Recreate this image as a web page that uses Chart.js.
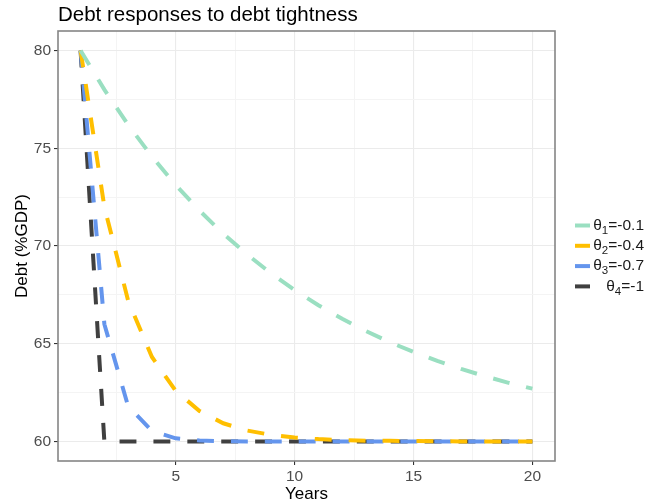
<!DOCTYPE html>
<html>
<head>
<meta charset="utf-8">
<script src="https://cdn.jsdelivr.net/npm/chart.js@4"></script>
<style>
  html, body { margin: 0; padding: 0; background: #ffffff; }
  #wrap { width: 646px; height: 503px; }
</style>
</head>
<body>
<div id="wrap"><canvas id="chart" width="646" height="503"></canvas></div>
<script>
// Debt path (%GDP) by year for each tightness parameter
const years = [1, 2, 3, 4, 5, 6, 7, 8, 9, 10, 11, 12, 13, 14, 15, 16, 17, 18, 19, 20];
const debtTheta1 = [80, 78, 76.2, 74.58, 73.12, 71.81, 70.63, 69.57, 68.61, 67.75, 66.97, 66.28, 65.65, 65.08, 64.58, 64.12, 63.71, 63.34, 63.0, 62.7];
const debtTheta2 = [80, 72, 67.2, 64.32, 62.59, 61.56, 60.93, 60.56, 60.34, 60.2, 60.12, 60.07, 60.04, 60.03, 60.02, 60.01, 60, 60, 60, 60];
const debtTheta3 = [80, 66, 61.8, 60.54, 60.16, 60.05, 60.01, 60, 60, 60, 60, 60, 60, 60, 60, 60, 60, 60, 60, 60];
const debtTheta4 = [80, 60, 60, 60, 60, 60, 60, 60, 60, 60, 60, 60, 60, 60, 60, 60, 60, 60, 60, 60];

const seriesNames = [
  { sub: '1', rest: '=-0.1' },
  { sub: '2', rest: '=-0.4' },
  { sub: '3', rest: '=-0.7' },
  { sub: '4', rest: '=-1' }
];
const seriesColors = ['#9ADFC1', '#FFBF00', '#6495ED', '#404040'];
const seriesData = [debtTheta1, debtTheta2, debtTheta3, debtTheta4];

const xTicks = [2.5, 5, 7.5, 10, 12.5, 15, 17.5, 20];
const yTicks = [60, 62.5, 65, 67.5, 70, 72.5, 75, 77.5, 80];

const FONT = '"Liberation Sans", Arial, sans-serif';
const isMajor = v => Math.abs(v % 5) < 1e-9;

const datasets = seriesData.map((vals, i) => ({
  label: 'θ' + seriesNames[i].sub + seriesNames[i].rest,
  data: years.map((y, k) => ({ x: y, y: vals[k] })),
  borderColor: seriesColors[i],
  backgroundColor: seriesColors[i],
  borderWidth: 4,
  borderDash: [16.9, 17],
  borderCapStyle: 'butt',
  pointRadius: 0,
  tension: 0,
  fill: false
}));

// Title, axis titles, panel frame and legend keys
const decorations = {
  id: 'decorations',
  afterDraw(chart) {
    const ctx = chart.ctx;
    const a = chart.chartArea;
    ctx.save();

    // panel frame
    ctx.strokeStyle = '#858585';
    ctx.lineWidth = 1.6;
    ctx.strokeRect(a.left, a.top, a.right - a.left, a.bottom - a.top);

    // title
    ctx.fillStyle = '#000000';
    ctx.font = '20.5px ' + FONT;
    ctx.textAlign = 'left';
    ctx.textBaseline = 'middle';
    ctx.fillText('Debt responses to debt tightness', a.left, 15);

    // axis titles
    ctx.font = '17px ' + FONT;
    ctx.textAlign = 'center';
    ctx.fillText('Years', (a.left + a.right) / 2, 494);
    ctx.save();
    ctx.translate(22, (a.top + a.bottom) / 2);
    ctx.rotate(-Math.PI / 2);
    ctx.fillText('Debt (%GDP)', 0, 0);
    ctx.restore();

    // legend
    const rightEdge = 644;
    const big = '15.5px ' + FONT;
    const small = '11.5px ' + FONT;
    seriesNames.forEach((s, i) => {
      const y = 225.5 + i * 20.3;
      ctx.strokeStyle = seriesColors[i];
      ctx.lineWidth = 4;
      ctx.lineCap = 'butt';
      ctx.beginPath();
      ctx.moveTo(575, y);
      ctx.lineTo(590, y);
      ctx.stroke();

      ctx.font = big;
      const wTheta = ctx.measureText('θ').width;
      const wRest = ctx.measureText(s.rest).width;
      ctx.font = small;
      const wSub = ctx.measureText(s.sub).width;
      let x = rightEdge - (wTheta + wSub + wRest);
      ctx.textAlign = 'left';
      ctx.textBaseline = 'middle';
      ctx.fillStyle = '#1a1a1a';
      ctx.font = big;
      ctx.fillText('θ', x, y);
      x += wTheta;
      ctx.font = small;
      ctx.fillText(s.sub, x, y + 5);
      x += wSub;
      ctx.font = big;
      ctx.fillText(s.rest, x, y);
    });
    ctx.restore();
  }
};

const gridColor = ctx => isMajor(ctx.tick.value) ? '#ebebeb' : '#f4f4f4';
const gridWidth = ctx => isMajor(ctx.tick.value) ? 1.1 : 1;
const tickColor = ctx => isMajor(ctx.tick.value) ? '#333333' : 'rgba(0,0,0,0)';

new Chart(document.getElementById('chart'), {
  type: 'line',
  data: { datasets },
  plugins: [decorations],
  options: {
    responsive: false,
    animation: false,
    layout: { padding: { top: 31, right: 91, bottom: 0, left: 0 } },
    plugins: {
      legend: { display: false },
      title: { display: false },
      tooltip: { enabled: false }
    },
    scales: {
      x: {
        type: 'linear',
        min: 0.05,
        max: 20.95,
        afterBuildTicks: s => { s.ticks = xTicks.map(v => ({ value: v })); },
        afterFit: s => { s.height = 42; },
        ticks: {
          autoSkip: false,
          maxRotation: 0,
          padding: 2,
          color: '#4d4d4d',
          font: { family: FONT, size: 15.5 },
          callback: v => isMajor(v) ? String(v) : ''
        },
        grid: { color: gridColor, lineWidth: gridWidth, tickColor: tickColor, tickLength: 4, drawTicks: true },
        border: { display: false }
      },
      y: {
        type: 'linear',
        min: 59,
        max: 81,
        afterBuildTicks: s => { s.ticks = yTicks.map(v => ({ value: v })); },
        afterFit: s => { s.width = 58; },
        ticks: {
          autoSkip: false,
          padding: 3,
          color: '#4d4d4d',
          font: { family: FONT, size: 15.5 },
          callback: v => isMajor(v) ? String(v) : ''
        },
        grid: { color: gridColor, lineWidth: gridWidth, tickColor: tickColor, tickLength: 4, drawTicks: true },
        border: { display: false }
      }
    }
  }
});
</script>
</body>
</html>
